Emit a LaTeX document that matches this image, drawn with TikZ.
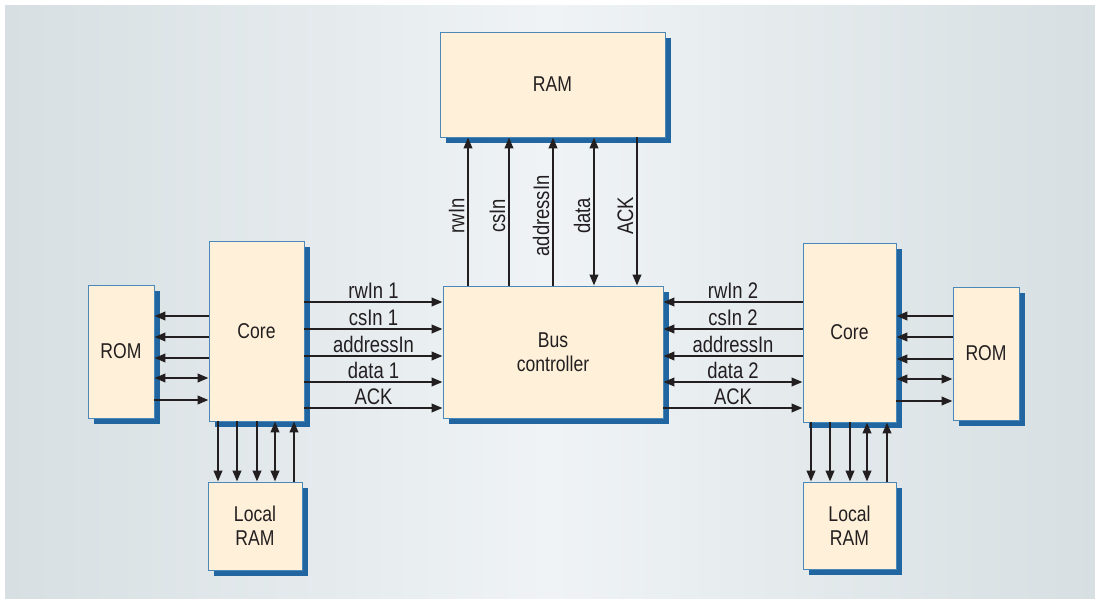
\documentclass[tikz,border=0pt]{standalone}
\usepackage{fontspec}
\setmainfont[FakeStretch=0.82]{Liberation Sans}
\usetikzlibrary{arrows.meta,shadows}
\definecolor{boxfill}{HTML}{FEF0D9}
\definecolor{boxline}{HTML}{4A88BA}
\definecolor{shadowblue}{HTML}{2166A0}
\definecolor{ink}{HTML}{231F20}
\definecolor{bgedge}{HTML}{D7DFE2}
\definecolor{bgmid}{HTML}{EFF3F5}
\tikzset{
  unit/.style={draw=boxline, line width=0.5pt, fill=boxfill, text=ink, align=center,
    font=\fontsize{12.2}{13.5}\selectfont, inner sep=0pt,
    drop shadow={shadow xshift=0.12cm, shadow yshift=-0.12cm, fill=shadowblue, opacity=1}},
  sig/.style={draw=ink, line width=1.25pt},
  lbl/.style={text=ink, font=\fontsize{12.8}{14}\selectfont, inner sep=1.5pt},
  fw/.style={->}, bw/.style={<-}, bi/.style={<->},
  >={Triangle[length=0.22cm,width=0.17cm]}
}

\begin{document}
\begin{tikzpicture}
    \useasboundingbox (0,0) rectangle (21.9,-11.98);
    \shade[left color=bgedge, right color=bgedge, middle color=bgmid] (0.1,-0.1) rectangle (21.9,-11.96);

    \node[unit, minimum width=4.5cm,  minimum height=2.1cm]  (ram)   at (11.05,-1.69) {RAM};
    \node[unit, minimum width=4.4cm,  minimum height=2.64cm] (bus)   at (11.06,-7.04) {Bus\\controller};
    \node[unit, minimum width=1.9cm,  minimum height=3.6cm]  (coreL) at (5.13,-6.62)  {Core};
    \node[unit, minimum width=1.32cm, minimum height=2.66cm] (romL)  at (2.42,-7.03)  {ROM};
    \node[unit, minimum width=1.88cm, minimum height=1.76cm] (lramL) at (5.10,-10.52) {Local\\RAM};
    \node[unit, minimum width=1.86cm, minimum height=3.58cm] (coreR) at (16.99,-6.65) {Core};
    \node[unit, minimum width=1.32cm, minimum height=2.66cm] (romR)  at (19.72,-7.07) {ROM};
    \node[unit, minimum width=1.86cm, minimum height=1.74cm] (lramR) at (16.99,-10.51) {Local\\RAM};

    % bus controller to RAM
    \foreach \x/\d/\t in {9.36/fw/rwIn, 10.18/fw/csIn, 11.06/fw/addressIn, 11.88/bi/data, 12.74/bw/ACK}
        \draw[sig,\d] (bus.north -| \x,0) -- node[lbl,pos=0.47,rotate=90,anchor=south] {\t} (ram.south -| \x,0);

    % cores to bus controller
    \foreach \y/\d/\t in {-6.04/fw/rwIn 1, -6.58/fw/csIn 1, -7.12/fw/addressIn, -7.64/fw/data 1, -8.16/fw/ACK}
        \draw[sig,\d] (coreL.east |- 0,\y) -- node[lbl,above] {\t} (bus.west |- 0,\y);
    \foreach \y/\d/\t in {-6.04/fw/rwIn 2, -6.58/fw/csIn 2, -7.12/fw/addressIn, -7.64/bi/data 2, -8.16/bw/ACK}
        \draw[sig,\d] (coreR.west |- 0,\y) -- node[lbl,above] {\t} (bus.east |- 0,\y);

    % ROMs
    \foreach \y/\d in {-6.32/fw, -6.74/fw, -7.16/fw, -7.56/bi, -8.0/bw}
        \draw[sig,\d] (coreL.west |- 0,\y) -- (romL.east |- 0,\y);
    \foreach \y/\d in {-6.32/fw, -6.74/fw, -7.18/fw, -7.58/bi, -8.02/bw}
        \draw[sig,\d] (romR.west |- 0,\y) -- (coreR.east |- 0,\y);

    % local RAMs
    \foreach \x/\d in {4.36/fw, 4.74/fw, 5.14/fw, 5.50/bi, 5.88/bw}
        \draw[sig,\d] (coreL.south -| \x,0) -- (lramL.north -| \x,0);
    \foreach \x/\d in {16.22/fw, 16.60/fw, 17.00/fw, 17.34/bi, 17.74/bw}
        \draw[sig,\d] (coreR.south -| \x,0) -- (lramR.north -| \x,0);
\end{tikzpicture}
\end{document}
